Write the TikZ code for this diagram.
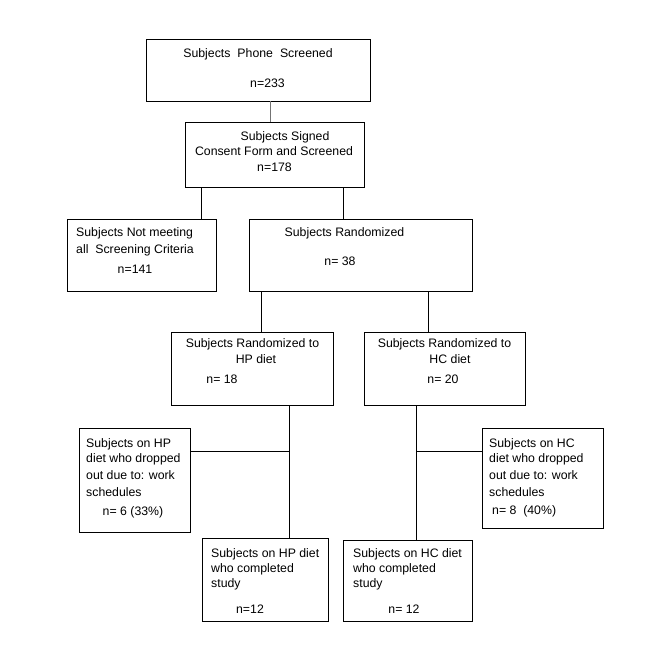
\documentclass[tikz,border=0pt]{standalone}
\usepackage{fontspec}
\setmainfont{Liberation Sans}
\begin{document}
\begin{tikzpicture}[x=1pt,y=-1pt,
  box/.style={draw=black,line width=0.8pt,inner sep=0pt,rectangle},
  conn/.style={draw=black,line width=0.8pt},
  txt/.style={inner sep=0pt,font=\fontsize{12.3}{14}\selectfont,anchor=base},
  txtl/.style={txt,anchor=base west}]
\useasboundingbox[fill=white] (0,0) rectangle (649,662);
% boxes
\node[box,minimum width=224pt,minimum height=62pt] (b1) at (258,70) {};
\node[box,minimum width=179pt,minimum height=65pt] (b2) at (274.5,154.5) {};
\node[box,minimum width=149pt,minimum height=72pt] (b3) at (141.5,255) {};
\node[box,minimum width=223pt,minimum height=72pt] (b4) at (360.5,255) {};
\node[box,minimum width=162pt,minimum height=73pt] (b5) at (252,368.5) {};
\node[box,minimum width=161pt,minimum height=73pt] (b6) at (444.5,368.5) {};
\node[box,minimum width=111pt,minimum height=104pt] (b7) at (134.5,480) {};
\node[box,minimum width=121pt,minimum height=100pt] (b8) at (542.5,478) {};
\node[box,minimum width=126pt,minimum height=83pt] (b9) at (265,579.5) {};
\node[box,minimum width=129pt,minimum height=81pt] (b10) at (407.5,580.5) {};
% texts
\node[txt] (t1a) at (258,57.5) {Subjects\hspace{7pt}Phone\hspace{7pt}Screened};
\node[txt] (t1b) at (267.5,87.5) {n=233};
\node[txt] (t2a) at (285,140.5) {Subjects Signed};
\node[txt] (t2b) at (274,155.5) {Consent Form and Screened};
\node[txt] (t2c) at (274.5,171.5) {n=178};
\node[txtl] (t3a) at (76,236.5) {Subjects Not meeting};
\node[txtl] (t3b) at (76,253.5) {all\ \ Screening Criteria};
\node[txt] (t3c) at (135,273.5) {n=141};
\node[txt] (t4a) at (344.5,236.5) {Subjects Randomized};
\node[txt] (t4b) at (340,265.5) {n= 38};
\node[txt] (t5a) at (252.5,347.5) {Subjects Randomized to};
\node[txt] (t5b) at (256,363.5) {HP diet};
\node[txt] (t5c) at (222,383.5) {n= 18};
\node[txt] (t6a) at (444.5,347.5) {Subjects Randomized to};
\node[txt] (t6b) at (450,363.5) {HC diet};
\node[txt] (t6c) at (443,383.5) {n= 20};
\node[txtl] (t7a) at (86,447.5) {Subjects on HP};
\node[txtl] (t7b) at (86,462.5) {diet who dropped};
\node[txtl] (t7c) at (86,479.5) {out due to: work};
\node[txtl] (t7d) at (86,496.5) {schedules};
\node[txt] (t7e) at (133,515.5) {n= 6 (33\%)};
\node[txtl] (t8a) at (489,447.5) {Subjects on HC};
\node[txtl] (t8b) at (489,462.5) {diet who dropped};
\node[txtl] (t8c) at (489,479.5) {out due to: work};
\node[txtl] (t8d) at (489,496.5) {schedules};
\node[txtl] (t8e) at (492,514.5) {n= 8 \ (40\%)};
\node[txtl] (t9a) at (211,557.5) {Subjects on HP diet};
\node[txtl] (t9b) at (211,572.5) {who completed};
\node[txtl] (t9c) at (211,587.5) {study};
\node[txt] (t9d) at (250,613.5) {n=12};
\node[txtl] (t10a) at (353,557.5) {Subjects on HC diet};
\node[txtl] (t10b) at (353,572.5) {who completed};
\node[txtl] (t10c) at (353,587.5) {study};
\node[txt] (t10d) at (404,613.5) {n= 12};
% connector columns
\coordinate (x1) at (270,0);
\coordinate (x2) at (201,0);
\coordinate (x3) at (343,0);
\coordinate (x4) at (261,0);
\coordinate (x5) at (428,0);
\coordinate (x6) at (289,0);
\coordinate (x7) at (416,0);
\coordinate (y1) at (0,451);
% connectors
\draw[conn,draw=black!55] (b1.south -| x1) -- (b2.north -| x1);
\draw[conn] (b2.south -| x2) -- (b3.north -| x2);
\draw[conn] (b2.south -| x3) -- (b4.north -| x3);
\draw[conn] (b4.south -| x4) -- (b5.north -| x4);
\draw[conn] (b4.south -| x5) -- (b6.north -| x5);
\draw[conn] (b5.south -| x6) -- (b9.north -| x6);
\draw[conn] (b6.south -| x7) -- (b10.north -| x7);
\coordinate (j1) at (x6 |- y1);
\coordinate (j2) at (x7 |- y1);
\draw[conn] (b7.east |- y1) -- (j1);
\draw[conn] (j2) -- (b8.west |- y1);
\end{tikzpicture}
\end{document}
